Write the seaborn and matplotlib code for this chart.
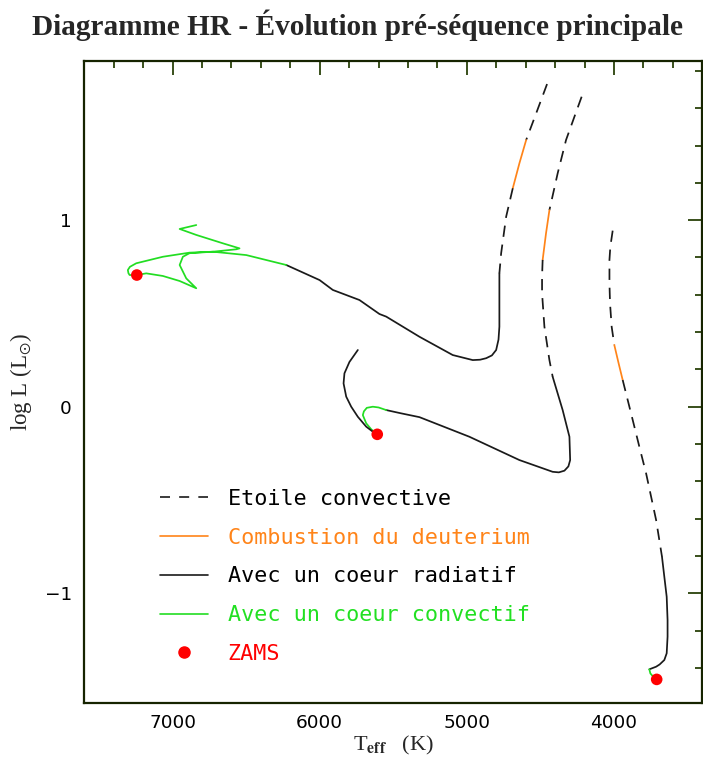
import matplotlib
matplotlib.use("Agg")
import matplotlib.pyplot as plt
from matplotlib.lines import Line2D
from matplotlib.ticker import MultipleLocator
import pandas as pd
import seaborn as sns

# Trace 1 (la plus lumineuse)
t1_conv_a_teff = [4455, 4529, 4597]
t1_conv_a_logl = [1.730, 1.573, 1.430]
t1_deut_teff = [4597, 4643, 4688]
t1_deut_logl = [1.430, 1.305, 1.171]
t1_conv_b_teff = [4688, 4733, 4767, 4779]
t1_conv_b_logl = [1.171, 1.019, 0.823, 0.715]
t1_rad_teff = [4779, 4779, 4779, 4785, 4801, 4830, 4869, 4910, 4960, 5096, 5322, 5548, 5594,
               5730, 5911, 6001, 6228]
t1_rad_logl = [0.715, 0.572, 0.429, 0.360, 0.304, 0.275, 0.260, 0.252, 0.250, 0.277, 0.375,
               0.483, 0.497, 0.572, 0.626, 0.679, 0.760]
t1_cc_teff = [6228, 6499, 6726, 6885, 7066, 7247, 7290, 7304, 7300, 7292, 7243, 7179, 7066, 6952,
              6839, 6907, 6952, 6930, 6885, 6726, 6567, 6545, 6658, 6839, 6952, 6839]
t1_cc_logl = [0.760, 0.813, 0.831, 0.826, 0.804, 0.769, 0.750, 0.733, 0.716, 0.706, 0.706, 0.715,
              0.701, 0.674, 0.635, 0.688, 0.760, 0.804, 0.823, 0.831, 0.844, 0.849, 0.876, 0.921,
              0.953, 0.974]

# Trace 2
t2_conv_a_teff = [4220, 4269, 4326, 4383, 4439]
t2_conv_a_logl = [1.662, 1.555, 1.430, 1.251, 1.054]
t2_deut_teff = [4439, 4462, 4485]
t2_deut_logl = [1.054, 0.930, 0.787]
t2_conv_b_teff = [4485, 4489, 4489, 4473, 4439, 4417]
t2_conv_b_logl = [0.787, 0.697, 0.608, 0.429, 0.250, 0.161]
t2_rad_teff = [4417, 4349, 4303, 4298, 4310, 4337, 4375, 4417, 4643, 4983, 5322, 5450, 5548]
t2_rad_logl = [0.161, -0.018, -0.161, -0.286, -0.320, -0.343, -0.352, -0.349, -0.286, -0.161,
               -0.056, -0.035, -0.018]
t2_cc_teff = [5548, 5600, 5639, 5680, 5700, 5707, 5684, 5650, 5609]
t2_cc_logl = [-0.018, -0.004, 0.0, -0.006, -0.025, -0.045, -0.089, -0.121, -0.148]
t2_post_teff = [5609, 5639, 5684, 5741, 5786, 5820, 5838, 5832, 5798, 5741]
t2_post_logl = [-0.148, -0.134, -0.107, -0.054, 0.0, 0.054, 0.125, 0.179, 0.240, 0.304]

# Trace 3 (la moins lumineuse)
t3_conv_a_teff = [4009, 4025, 4031, 4031, 4027, 4016, 3998]
t3_conv_a_logl = [0.944, 0.858, 0.787, 0.662, 0.554, 0.429, 0.331]
t3_deut_teff = [3998, 3970, 3941]
t3_deut_logl = [0.331, 0.237, 0.143]
t3_conv_b_teff = [3941, 3873, 3828, 3782, 3714, 3674]
t3_conv_b_logl = [0.143, -0.071, -0.214, -0.357, -0.607, -0.804]
t3_rad_teff = [3674, 3658, 3642, 3636, 3636, 3642, 3658, 3690, 3714, 3760]
t3_rad_logl = [-0.804, -0.912, -1.019, -1.144, -1.233, -1.322, -1.358, -1.382, -1.394, -1.408]
t3_cc_teff = [3760, 3753, 3733, 3710]
t3_cc_logl = [-1.408, -1.430, -1.448, -1.462]

# ZAMS
zams_teff = [7243, 5609, 3710]
zams_logl = [0.706, -0.148, -1.462]

labels = ["Etoile convective", "Combustion du deuterium", "Avec un coeur radiatif",
          "Avec un coeur convectif", "ZAMS"]

BLACK = "#1a1a1a"
ORANGE = "#ff8419"
GREEN = "#22dd22"
RED = "#ff0000"
AXCOL = "#162400"

styles = {
    "conv": dict(color=BLACK, dashes=(6.5, 4.5)),
    "deut": dict(color=ORANGE),
    "rad": dict(color=BLACK),
    "cc": dict(color=GREEN),
}

segments = [
    ("conv", t1_conv_a_teff, t1_conv_a_logl), ("deut", t1_deut_teff, t1_deut_logl),
    ("conv", t1_conv_b_teff, t1_conv_b_logl), ("rad", t1_rad_teff, t1_rad_logl),
    ("cc", t1_cc_teff, t1_cc_logl),
    ("conv", t2_conv_a_teff, t2_conv_a_logl), ("deut", t2_deut_teff, t2_deut_logl),
    ("conv", t2_conv_b_teff, t2_conv_b_logl), ("rad", t2_rad_teff, t2_rad_logl),
    ("cc", t2_cc_teff, t2_cc_logl), ("rad", t2_post_teff, t2_post_logl),
    ("conv", t3_conv_a_teff, t3_conv_a_logl), ("deut", t3_deut_teff, t3_deut_logl),
    ("conv", t3_conv_b_teff, t3_conv_b_logl), ("rad", t3_rad_teff, t3_rad_logl),
    ("cc", t3_cc_teff, t3_cc_logl),
]

sns.set_style("white")
plt.rcParams["mathtext.fontset"] = "stix"

fig = plt.figure(figsize=(7.03, 7.61), dpi=100)
ax = fig.add_axes([0.1199, 0.0766, 0.8791, 0.8436])

for kind, teff, logl in segments:
    df = pd.DataFrame({"teff": teff, "logl": logl})
    sns.lineplot(data=df, x="teff", y="logl", sort=False, estimator=None,
                 lw=1.25, ax=ax, **styles[kind])

zams_df = pd.DataFrame({"teff": zams_teff, "logl": zams_logl})
sns.scatterplot(data=zams_df, x="teff", y="logl", color=RED, s=70,
                edgecolor="none", zorder=5, ax=ax)

ax.set_xlim(7600, 3400)
ax.set_ylim(-1.587, 1.855)

ax.xaxis.set_major_locator(MultipleLocator(1000))
ax.xaxis.set_minor_locator(MultipleLocator(200))
ax.yaxis.set_major_locator(MultipleLocator(1))
ax.yaxis.set_minor_locator(MultipleLocator(0.2))
ax.tick_params(which="both", direction="in", top=True, right=True, color="#2a420a",
               width=1.3, labelsize=13.3, labelcolor="black")
ax.tick_params(which="major", length=10)
ax.tick_params(which="minor", length=5)
ax.tick_params(axis="x", pad=8)
ax.tick_params(axis="y", pad=9)
for sp in ax.spines.values():
    sp.set_color(AXCOL)
    sp.set_linewidth(1.6)

ax.set_xlabel(r"T$_{\mathbf{eff}}$   (K)", fontsize=16, family="Liberation Serif")
ax.set_ylabel(r"log L (L$_{\odot}$)", fontsize=16.5, family="Liberation Serif")
ax.xaxis.set_label_coords(0.50, -0.048)
ax.yaxis.set_label_coords(-0.082, 0.50)

handles = [
    Line2D([], [], color=BLACK, lw=1.2, dashes=(6, 5.5)),
    Line2D([], [], color=ORANGE, lw=1.2),
    Line2D([], [], color=BLACK, lw=1.2),
    Line2D([], [], color=GREEN, lw=1.2),
    Line2D([], [], ls="none", marker="o", color=RED, markersize=8),
]
ax.legend(handles, labels, loc="upper left", bbox_to_anchor=(0.1225, 0.333),
          frameon=False, prop=dict(family="DejaVu Sans Mono", size=15.7),
          handlelength=2.2, handletextpad=0.9, labelspacing=0.86,
          borderpad=0, borderaxespad=0,
          labelcolor=["black", ORANGE, "black", "#22e022", RED])

fig.suptitle("Diagramme HR - Évolution pré-séquence principale", x=0.5085, y=0.967,
             va="center", fontsize=21.1, fontweight="bold", family="Liberation Serif")

fig.savefig("out.png", dpi=100)
